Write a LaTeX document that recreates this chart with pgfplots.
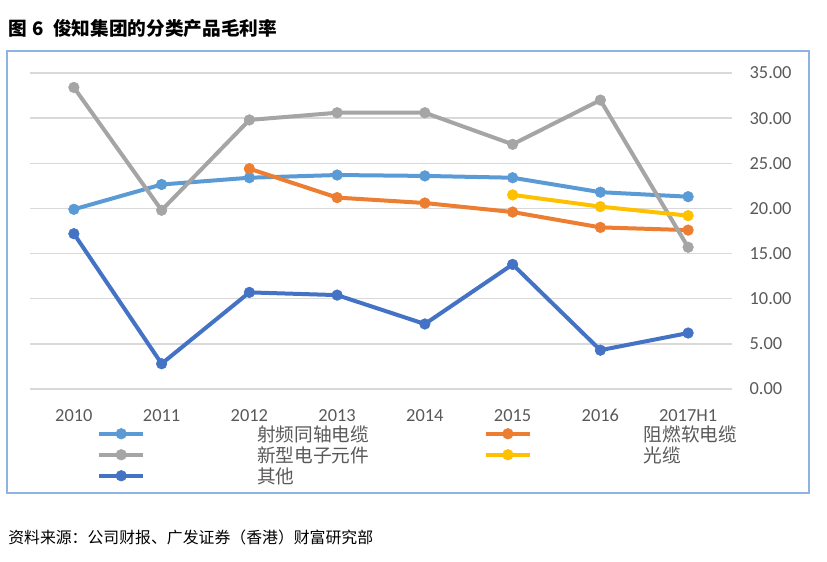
\documentclass[border=0pt]{standalone}
\usepackage{fontspec}
\setmainfont{Carlito}
\newfontfamily\cjk{Noto Sans CJK SC}
\usepackage{pgfplots}
\pgfplotsset{compat=1.18}
\definecolor{cA}{HTML}{5B9BD5}
\definecolor{cB}{HTML}{ED7D31}
\definecolor{cC}{HTML}{A5A5A5}
\definecolor{cD}{HTML}{FFC000}
\definecolor{cE}{HTML}{4472C4}
\definecolor{framec}{HTML}{8EB4E3}
\definecolor{gridc}{HTML}{D9D9D9}
\definecolor{tickc}{HTML}{595959}
\begin{document}
\begin{tikzpicture}
\useasboundingbox (0,0) rectangle (620.25pt,420.75pt);
\draw[color=framec, line width=1.5pt] (5.25pt,51pt) rectangle (606.75pt,382.5pt);
\node[anchor=west, inner sep=0pt, font=\cjk\bfseries\fontsize{14}{16}\selectfont] at (6pt,399.75pt) {图\hspace{0.32em}6\hspace{0.48em}俊知集团的分类产品毛利率};
\node[anchor=west, inner sep=0pt, font=\cjk\fontsize{11.9}{14}\selectfont] at (6pt,18pt) {资料来源：公司财报、广发证券（香港）财富研究部};
\begin{axis}[
 at={(22.5pt,129pt)}, anchor=south west, scale only axis, width=526.5pt, height=237pt,
 xmin=-0.5, xmax=7.5, ymin=0, ymax=35, clip=false,
 xtick={0,...,7}, xticklabels={2010,2011,2012,2013,2014,2015,2016,2017H1},
 ytick={0,5,...,35},
 ytick pos=right, yticklabel pos=right,
 /pgf/number format/.cd, fixed, fixed zerofill, precision=2, assume math mode=true, /pgfplots/.cd,
 axis line style={draw=none}, major tick length=0pt,
 ymajorgrids, grid style={color=gridc, line width=1.1pt},
 tick label style={font=\fontsize{13.8}{16}\selectfont, text=tickc},
 xticklabel style={anchor=base, inner sep=0pt, yshift=-24pt},
 yticklabel style={anchor=west, inner sep=0pt, xshift=13pt},
 legend columns=2, legend cell align=left,
 legend style={at={(0.0954,-0.1155)}, anchor=north west, draw=none, fill=none, inner sep=0pt, row sep=3.75pt,
   /tikz/every even column/.append style={column sep=86pt},
   nodes={inner sep=0pt, text height=12pt, text depth=0pt, font=\cjk\fontsize{14}{16}\selectfont, text=tickc}},
 legend image code/.code={\draw[#1, line width=3pt, mark repeat=2, mark phase=2] plot coordinates {(0pt,0pt) (16.5pt,0pt) (33pt,0pt)}; \path[draw=none, fill=none] (0pt,0pt) -- (118.5pt,0pt);},
 every axis plot/.append style={line width=3pt, mark=*, mark size=4pt, mark options={solid, line width=0.4pt}},
]
\addplot[color=cA] coordinates {(0,19.9)(1,22.65)(2,23.4)(3,23.7)(4,23.6)(5,23.4)(6,21.8)(7,21.3)};
\addlegendentry{射频同轴电缆}
\addplot[color=cB] coordinates {(2,24.4)(3,21.2)(4,20.6)(5,19.6)(6,17.9)(7,17.6)};
\addlegendentry{阻燃软电缆}
\addplot[color=cC] coordinates {(0,33.4)(1,19.8)(2,29.8)(3,30.6)(4,30.6)(5,27.1)(6,32.0)(7,15.7)};
\addlegendentry{新型电子元件}
\addplot[color=cD] coordinates {(5,21.5)(6,20.2)(7,19.2)};
\addlegendentry{光缆}
\addplot[color=cE] coordinates {(0,17.2)(1,2.8)(2,10.7)(3,10.4)(4,7.2)(5,13.8)(6,4.3)(7,6.2)};
\addlegendentry{其他}
\end{axis}
\end{tikzpicture}
\end{document}
